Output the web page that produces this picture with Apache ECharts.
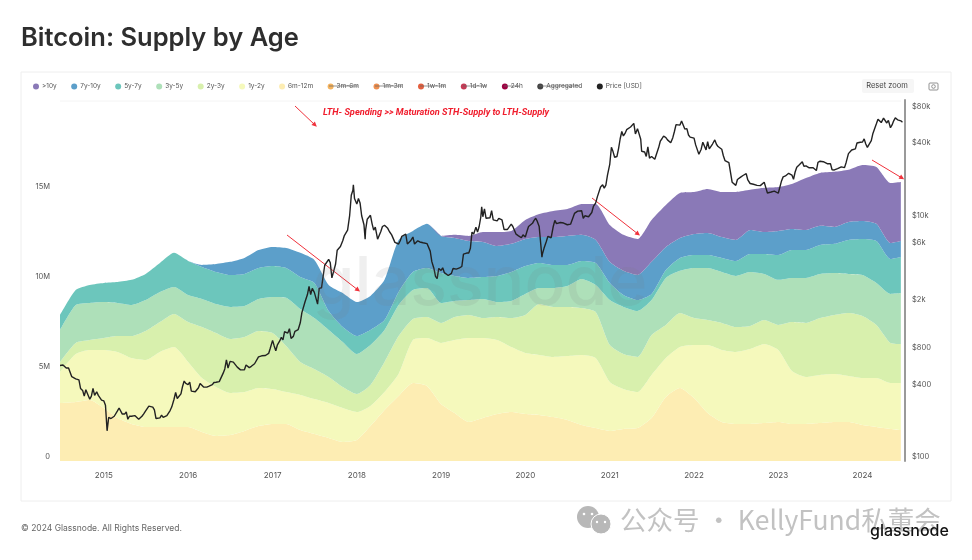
<!DOCTYPE html>
<html>
<head>
<meta charset="utf-8">
<title>Bitcoin: Supply by Age</title>
<script src="https://cdn.jsdelivr.net/npm/echarts@6/dist/echarts.min.js"></script>
<style>
  html, body { margin: 0; padding: 0; background: #fff; }
  #chart { width: 972px; height: 560px; }
</style>
</head>
<body>
<div id="chart"></div>
<script>
const areaDates = [
  "2014-06-25","2014-09-01","2014-11-01","2015-01-01","2015-03-01","2015-05-01","2015-07-01","2015-09-01","2015-11-01","2016-01-01",
  "2016-03-01","2016-05-01","2016-07-01","2016-09-01","2016-11-01","2017-01-01","2017-03-01","2017-05-01","2017-07-01","2017-09-01",
  "2017-11-01","2018-01-01","2018-03-01","2018-05-01","2018-07-01","2018-09-01","2018-11-01","2019-01-01","2019-03-01","2019-05-01",
  "2019-07-01","2019-09-01","2019-11-01","2020-01-01","2020-03-01","2020-05-01","2020-07-01","2020-09-01","2020-11-01","2021-01-01",
  "2021-03-01","2021-05-01","2021-07-01","2021-09-01","2021-11-01","2022-01-01","2022-03-01","2022-05-01","2022-07-01","2022-09-01",
  "2022-11-01","2023-01-01","2023-03-01","2023-05-01","2023-07-01","2023-09-01","2023-11-01","2024-01-01","2024-03-01","2024-05-01",
  "2024-06-15"
];

// top edge of each age band in the stacked picture, millions of BTC
const topOver10y = [
  8.11,9.50,9.78,9.89,9.94,10.06,10.39,11.00,11.56,11.11,
  10.89,10.94,11.06,11.28,11.72,11.89,11.83,11.56,11.17,9.78,
  9.33,8.83,9.17,10.06,12.28,12.78,13.17,12.50,12.56,12.50,
  12.72,12.72,12.78,13.39,13.72,13.89,14.00,14.28,14.28,13.11,
  12.56,12.33,13.39,14.22,14.89,14.94,15.11,14.94,14.94,15.06,
  15.17,15.22,15.39,15.72,16.00,16.06,16.17,16.44,16.33,15.44,
  15.50
];
const top7y10y = [
  8.11,9.50,9.78,9.89,9.94,10.06,10.39,11.00,11.56,11.11,
  10.89,10.94,11.06,11.28,11.72,11.89,11.83,11.56,11.17,9.78,
  9.33,8.83,9.17,10.06,12.28,12.78,13.17,12.50,12.39,12.22,
  12.17,11.94,12.06,12.33,12.44,12.44,12.50,12.56,12.28,11.06,
  10.56,10.33,11.06,11.89,12.39,12.61,12.67,12.44,12.28,12.83,
  12.72,12.78,12.89,12.83,13.06,13.00,13.28,13.33,13.17,12.11,
  12.22
];
const top5y7y = [
  8.11,9.50,9.78,9.89,9.94,10.06,10.39,11.00,11.56,11.11,
  10.78,10.50,10.33,10.39,10.72,10.83,10.72,10.22,9.89,8.33,
  7.44,6.94,7.28,7.83,9.39,10.50,10.72,10.44,10.28,10.17,
  10.22,10.28,10.50,10.83,11.00,10.89,10.89,11.11,11.00,9.89,
  9.22,8.94,9.28,10.61,11.28,11.44,11.44,11.28,11.11,11.50,
  11.50,11.44,11.72,11.72,12.00,12.06,12.28,12.33,12.22,11.22,
  11.33
];
const top3y5y = [
  7.28,8.67,8.78,8.83,8.78,8.67,8.94,9.39,9.67,9.22,
  9.00,8.72,8.56,8.61,9.00,9.11,9.06,8.44,7.94,7.28,
  6.61,5.94,6.44,7.28,8.67,9.50,9.61,8.78,8.89,8.94,
  9.00,8.83,8.89,9.28,9.61,9.61,9.72,10.11,9.78,8.94,
  8.56,8.33,8.94,10.17,10.56,10.72,10.72,10.50,10.28,10.50,
  10.39,10.06,10.17,10.17,10.39,10.44,10.39,10.33,9.89,9.28,
  9.33
];
const top2y3y = [
  5.50,6.56,6.72,6.83,6.94,6.94,7.22,7.72,8.17,7.72,
  7.44,7.11,6.78,6.89,7.22,7.11,6.39,5.50,5.11,4.67,
  4.11,3.72,4.22,5.50,6.94,7.89,8.00,7.67,8.00,8.11,
  7.94,8.00,7.94,8.11,8.72,8.56,8.56,8.50,8.28,6.44,
  5.94,5.78,7.00,7.56,8.22,7.94,7.83,7.67,7.44,7.50,
  7.83,7.56,7.72,7.67,7.94,8.11,8.22,8.06,7.56,6.56,
  6.50
];
const top1y2y = [
  4.94,5.94,6.17,6.17,6.06,5.72,5.61,6.06,6.33,5.50,
  4.61,4.11,3.78,3.83,4.06,4.00,3.83,3.67,3.44,3.22,
  2.94,2.72,3.06,3.83,4.83,6.72,6.83,6.56,6.72,6.83,
  6.83,6.72,6.33,6.00,5.89,5.78,5.83,5.89,5.72,4.39,
  4.00,3.83,4.78,5.72,6.33,6.44,6.44,6.17,6.06,6.22,
  6.50,6.17,5.00,4.67,4.78,4.83,4.72,4.61,4.61,4.33,
  4.33
];
const top6m12m = [
  3.22,3.28,3.39,2.94,2.39,2.06,1.89,1.89,1.89,1.89,
  1.61,1.39,1.44,1.67,1.94,2.06,2.06,1.72,1.50,1.28,
  1.06,1.17,1.94,2.83,3.61,4.33,4.17,3.17,2.67,2.17,
  2.39,2.61,2.72,2.61,2.56,2.44,2.28,2.00,1.83,1.67,
  1.78,1.83,2.39,3.56,4.06,3.50,2.67,2.17,2.06,2.06,
  2.11,2.17,2.06,2.06,2.11,2.17,2.17,2.00,1.89,1.78,
  1.72
];

// price, four readings a month (1st, 8th, 15th, 22nd)
const price2014 = [630,625,620,590, 590,590,500,510, 480,475,470,400, 385,345,390,385, 325,345,400,350, 375,350,350,320]; // from July
const price2015 = [315,290,178,230, 225,222,235,240, 260,275,285,245, 245,255,222,235, 235,240,238,235, 222,225,235,245, 260,270,285,280, 280,265,225,230, 228,240,230,232, 238,245,262,280, 325,370,330,325, 360,415,460,440];
const price2016 = [430,450,380,385, 375,375,405,440, 430,410,415,410, 418,420,430,448, 450,460,455,440, 535,580,690,590, 670,650,660,665, 600,590,570,585, 570,625,610,595, 610,615,640,655, 730,705,745,735, 750,770,780,860];
const price2017 = [1000,900,820,920, 990,1060,1010,1180, 1200,1150,1250,1040, 1080,1190,1180,1230, 1400,1700,1750,2100, 2400,2800,2400,2700, 2500,2500,2000,2700, 2730,3400,4200,4100, 4700,4400,3300,3700, 4300,5600,5700,6000, 6700,7400,7300,8200, 10900,16000,17600,15000];
const price2018 = [13500,15000,13800,10800, 9100,8200,10100,9800, 10900,9300,8200,8700, 6900,7000,8000,8800, 9000,9300,8500,8000, 7500,7600,6500,6700, 6300,6700,7300,7400, 7600,6300,6300,6700, 7200,6300,6500,6700, 6550,6600,6450,6500, 6350,6500,5500,4500, 3950,3400,3250,3950];
const price2019 = [3800,4000,3650,3600, 3450,3400,3600,3950, 3850,3900,3900,4000, 4100,5200,5050,5300, 5300,5800,7900,7600, 8700,7900,8800,10500, 10600,12300,10300,10300, 10400,11900,10000,10100, 9800,10300,10300,10000, 8300,8200,8300,8200, 9200,8800,8500,7600, 7400,7500,7100,7500];
const price2020 = [7200,8000,8800,8700, 9350,9900,10300,9700, 8800,8900,5200,5800, 6600,7300,7100,7100, 8800,9900,9300,9200, 9500,9700,9400,9300, 9100,9400,9200,9400, 11300,11600,11800,11600, 11900,10300,10800,10500, 10600,10900,11500,12900, 13800,15500,16000,18700, 19500,18300,19400,23500];
const price2021 = [29000,40000,36800,33000, 33500,39000,47000,54000, 49600,52000,55900,54000, 58800,58000,63000,51500, 57000,58000,46500,37500, 36500,33500,40200,32500, 33500,33000,31800,32300, 39900,45000,47000,49500, 48000,46000,47100,43500, 48000,54000,61500,60500, 61000,66000,64000,56500, 57000,50500,48500,48500];
const price2022 = [47500,41800,43000,35000, 38500,44000,44000,38000, 44400,38700,39300,42500, 46000,42300,40500,39700, 38500,34000,31000,30000, 29800,30200,20500,20000, 19300,21600,20800,22600, 23300,23800,24100,21400, 20000,19300,19700,19400, 19300,19500,19200,19200, 20500,18500,16700,16200, 17000,16800,17300,16800];
const price2023 = [16600,17200,21000,22700, 23100,22900,24300,24200, 23500,21700,24900,27300, 28500,28300,30300,27800, 28000,27600,27000,26800, 27000,26500,25600,30000, 30600,30200,30300,29800, 29200,29700,29200,26000, 25900,25900,26600,26600, 27500,27900,27100,29900, 35400,36700,37900,37400, 38700,43300,42000,44000];
const price2024 = [44200,46900,42500,39900, 43000,45300,52000,51800, 62500,68300,69000,64000, 69600,71600,63500,66800, 58000,61200,66200,70000, 67500,69400,66200,64500]; // to June
const priceExtremes = [
  ["2017-12-17",19500],["2018-02-06",6900],["2019-06-26",12800],["2020-03-13",4900],
  ["2021-05-19",37000],["2021-11-09",67500]
];

const seriesNames = [">10y","7y-10y","5y-7y","3y-5y","2y-3y","1y-2y","6m-12m","3m-6m","1m-3m","1w-1m","1d-1w","24h","Aggregated","Price [USD]"];
const seriesColors = ["#8a79b7","#5c9fca","#6cc6bc","#aee0b9","#d8f0ad","#f5f9bc","#fdedb3","#f5b35e","#ee8f4f","#e4603f","#c63a55","#9e0142","#444444","#222222"];
const priceTicks = [100,400,800,2000,6000,10000,40000,80000];
const supplyTicks = [0,5,10,15];
const readingDays = ["01","08","15","22"];

function yearRows(year, firstMonth, values) {
  return values.map((v, i) => {
    const month = firstMonth + Math.floor(i / 4);
    return [`${year}-${String(month).padStart(2, "0")}-${readingDays[i % 4]}`, v];
  });
}

const priceRows = [
  ["2014-06-25", 620],
  ...yearRows(2014, 7, price2014),
  ...yearRows(2015, 1, price2015),
  ...yearRows(2016, 1, price2016),
  ...yearRows(2017, 1, price2017),
  ...yearRows(2018, 1, price2018),
  ...yearRows(2019, 1, price2019),
  ...yearRows(2020, 1, price2020),
  ...yearRows(2021, 1, price2021),
  ...yearRows(2022, 1, price2022),
  ...yearRows(2023, 1, price2023),
  ...yearRows(2024, 1, price2024),
  ...priceExtremes,
].sort((a, b) => (a[0] < b[0] ? -1 : 1));

function areaSeries(nameIndex, top, below) {
  return {
    name: seriesNames[nameIndex],
    type: "line",
    stack: "supply",
    smooth: 0.2,
    symbol: "none",
    lineStyle: { width: 0 },
    areaStyle: { color: seriesColors[nameIndex], opacity: 1 },
    itemStyle: { color: seriesColors[nameIndex] },
    data: top.map((v, i) => [areaDates[i], below ? +(v - below[i]).toFixed(2) : v]),
  };
}

function emptySeries(nameIndex) {
  return {
    name: seriesNames[nameIndex],
    type: "line",
    symbol: "none",
    itemStyle: { color: seriesColors[nameIndex] },
    data: [],
  };
}

function arrowLine(x1, y1, x2, y2) {
  return [{ x: x1, y: y1 }, { x: x2, y: y2 }];
}

function strike(x1, x2) {
  return { type: "line", shape: { x1: x1, y1: 86, x2: x2, y2: 86 }, style: { stroke: "#666", lineWidth: 0.7 }, z: 20 };
}

const chart = echarts.init(document.getElementById("chart"));
const uiFont = "Inter, 'Noto Sans', sans-serif";

chart.setOption({
  animation: false,
  backgroundColor: "#fff",
  title: {
    text: "Bitcoin: Supply by Age",
    left: 16,
    top: 20,
    textStyle: { fontFamily: uiFont, fontSize: 25.5, fontWeight: 600, color: "#2e2e2e" },
  },
  legend: {
    left: 28,
    top: 78,
    itemWidth: 6,
    itemHeight: 6,
    itemGap: 14.5,
    icon: "circle",
    selectedMode: false,
    data: seriesNames,
    textStyle: { fontFamily: uiFont, fontSize: 6.5, color: "#555", padding: [0, 0, 0, -2] },
  },
  grid: { left: 60, right: 67, top: 100, bottom: 99 },
  xAxis: {
    type: "time",
    min: "2014-06-25",
    max: "2024-07-03",
    splitNumber: 10,
    minInterval: 365 * 24 * 3600 * 1000,
    axisLine: { show: false },
    axisTick: { show: false },
    splitLine: { show: false },
    axisLabel: {
      formatter: "{yyyy}",
      hideOverlap: false,
      showMinLabel: false,
      showMaxLabel: false,
      fontFamily: uiFont,
      fontSize: 8,
      color: "#555",
      margin: 11,
    },
  },
  yAxis: [
    {
      type: "value",
      min: 0,
      max: 20.05,
      axisLine: { show: false },
      axisTick: { show: false },
      splitLine: { show: false },
      axisLabel: {
        customValues: supplyTicks,
        formatter: (v) => (v === 0 ? "0" : `${v}M`),
        fontFamily: uiFont,
        fontSize: 7.5,
        color: "#555",
        margin: 10,
        verticalAlign: "bottom",
      },
    },
    {
      type: "log",
      position: "right",
      min: 100,
      max: 98500,
      axisLine: { show: true, lineStyle: { color: "#9a9a9a", width: 2 } },
      axisTick: { show: false },
      splitLine: { show: false },
      axisLabel: {
        customValues: priceTicks,
        formatter: (v) => (v >= 1000 ? `$${Math.round(v / 1000)}k` : `$${Math.round(v)}`),
        fontFamily: uiFont,
        fontSize: 7.5,
        color: "#555",
        margin: 7,
        verticalAlign: "bottom",
      },
    },
  ],
  series: [
    areaSeries(6, top6m12m, null),
    areaSeries(5, top1y2y, top6m12m),
    areaSeries(4, top2y3y, top1y2y),
    areaSeries(3, top3y5y, top2y3y),
    areaSeries(2, top5y7y, top3y5y),
    areaSeries(1, top7y10y, top5y7y),
    areaSeries(0, topOver10y, top7y10y),
    emptySeries(7),
    emptySeries(8),
    emptySeries(9),
    emptySeries(10),
    emptySeries(11),
    emptySeries(12),
    {
      name: seriesNames[13],
      type: "line",
      yAxisIndex: 1,
      symbol: "none",
      z: 5,
      lineStyle: { color: seriesColors[13], width: 1.4 },
      itemStyle: { color: seriesColors[13] },
      data: priceRows,
      markLine: {
        silent: true,
        symbol: ["none", "triangle"],
        symbolSize: 5,
        label: { show: false },
        lineStyle: { color: "#f0323c", width: 1, type: "solid" },
        data: [
          arrowLine(295, 106, 315, 125),
          arrowLine(287, 235, 358, 290),
          arrowLine(592, 198, 638, 234),
          arrowLine(872, 160, 902, 178),
        ],
      },
    },
  ],
  graphic: [
    { type: "rect", shape: { x: 21, y: 72, width: 930, height: 429 }, style: { fill: "#fff", stroke: "#eeeeee", lineWidth: 1 }, z: -10 },
    { type: "line", shape: { x1: 60, y1: 101, x2: 901, y2: 101 }, style: { stroke: "#f4f4f4", lineWidth: 1 }, z: -5 },
    { type: "text", x: 480, y: 285, z: 10, style: { text: "glassnode", fontFamily: uiFont, fontSize: 68, fontWeight: 500, fill: "rgba(120,120,120,0.12)", align: "center", verticalAlign: "middle" } },
    { type: "text", x: 323, y: 113, z: 20, style: { text: "LTH- Spending >> Maturation STH-Supply to LTH-Supply", fontFamily: "Roboto, sans-serif", fontSize: 9.2, fontWeight: 700, fontStyle: "italic", fill: "#f01c2c", verticalAlign: "middle" } },
    { type: "rect", shape: { x: 862, y: 79, width: 52, height: 14, r: 2 }, style: { fill: "#f6f6f6" }, z: 20 },
    { type: "text", x: 887, y: 86, z: 21, style: { text: "Reset zoom", fontFamily: uiFont, fontSize: 7.5, fill: "#444", align: "center", verticalAlign: "middle" } },
    { type: "rect", shape: { x: 929, y: 83, width: 9, height: 7, r: 1 }, style: { fill: "none", stroke: "#777", lineWidth: 0.8 }, z: 20 },
    { type: "circle", shape: { cx: 933.5, cy: 86.5, r: 1.8 }, style: { fill: "none", stroke: "#777", lineWidth: 0.8 }, z: 20 },
    strike(329, 358),
    strike(375, 402),
    strike(420, 445),
    strike(463, 486),
    strike(504, 520),
    strike(539, 580),
    { type: "text", x: 21, y: 528, style: { text: "© 2024 Glassnode. All Rights Reserved.", fontFamily: uiFont, fontSize: 8.5, fill: "#666", verticalAlign: "middle" } },
    { type: "circle", shape: { cx: 588, cy: 517, r: 11 }, style: { fill: "#b8b8b8" } },
    { type: "circle", shape: { cx: 584, cy: 514, r: 1.3 }, style: { fill: "#fff" } },
    { type: "circle", shape: { cx: 592, cy: 514, r: 1.3 }, style: { fill: "#fff" } },
    { type: "circle", shape: { cx: 601, cy: 524, r: 10 }, style: { fill: "#b8b8b8", stroke: "#fff", lineWidth: 1 } },
    { type: "circle", shape: { cx: 597, cy: 522, r: 1.2 }, style: { fill: "#fff" } },
    { type: "circle", shape: { cx: 605, cy: 522, r: 1.2 }, style: { fill: "#fff" } },
    { type: "text", x: 620, y: 520, style: { text: "公众号 · KellyFund私董会", fontFamily: "'Noto Sans CJK SC', sans-serif", fontSize: 26.5, fill: "#c2c2c2", verticalAlign: "middle" } },
    { type: "text", x: 870, y: 531, z: 5, style: { text: "glassnode", fontFamily: uiFont, fontSize: 16, fontWeight: 500, fill: "#111", verticalAlign: "middle" } },
  ],
});

window.addEventListener("resize", () => {
  chart.resize();
});
</script>
</body>
</html>
